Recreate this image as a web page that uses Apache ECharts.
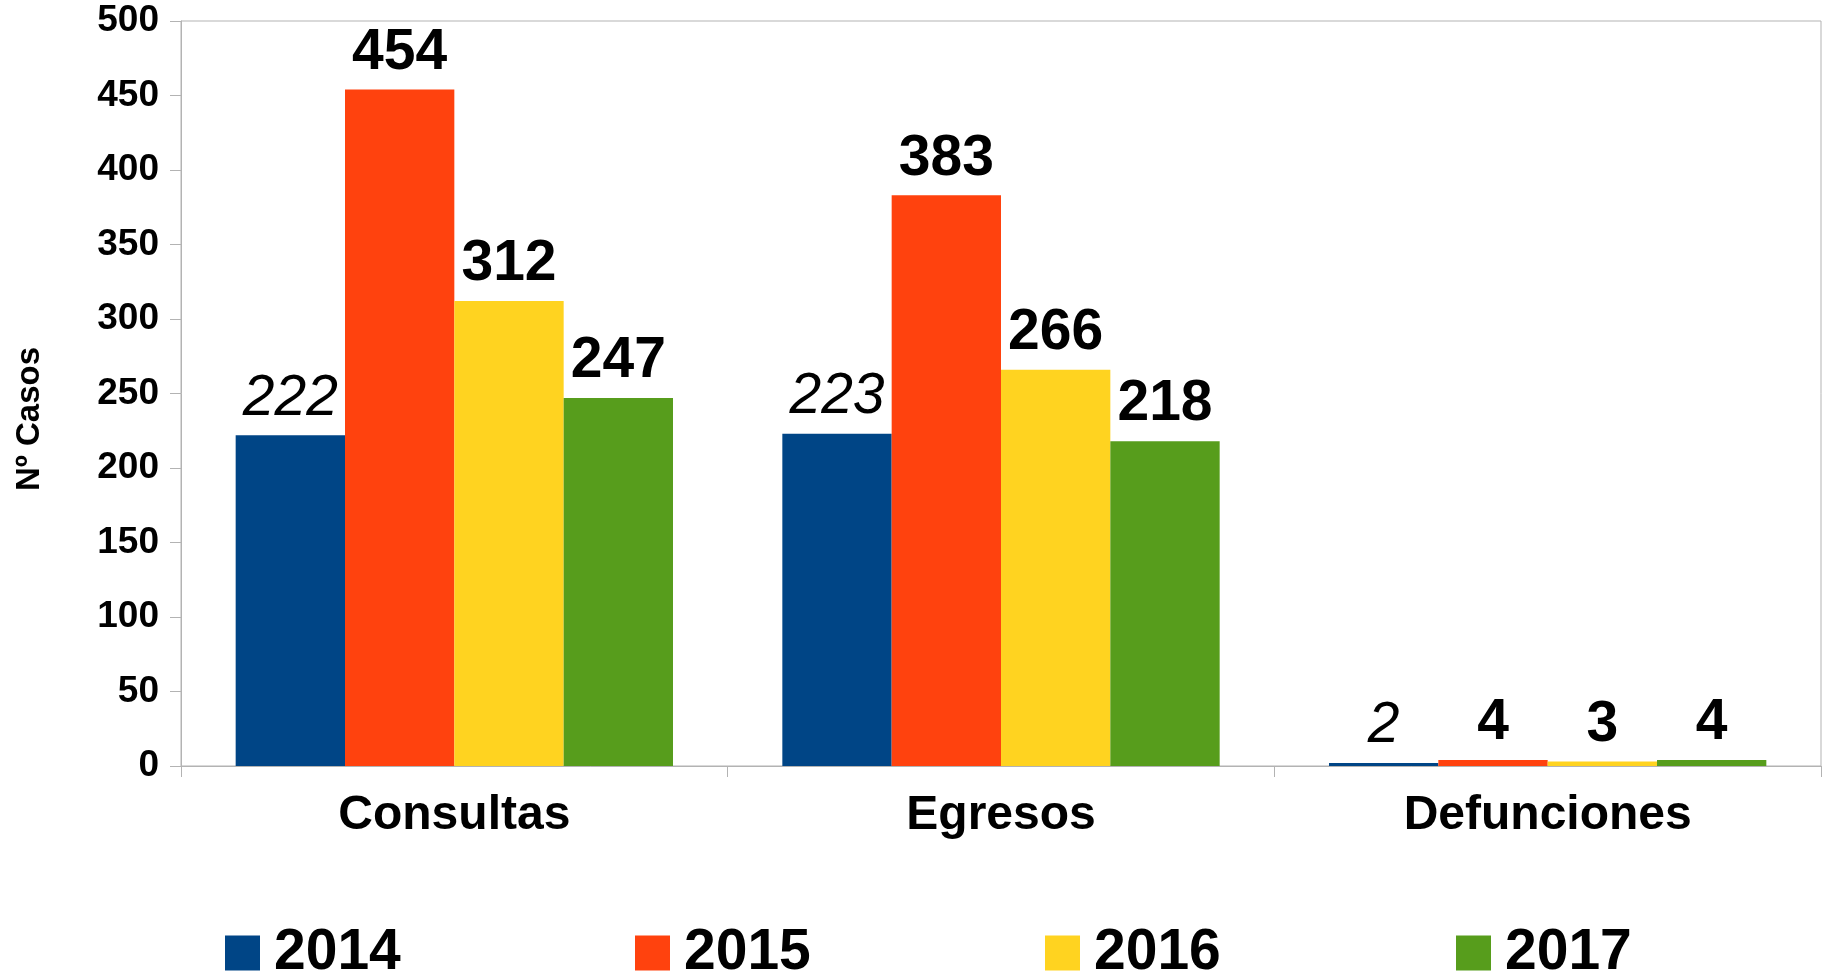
<!DOCTYPE html>
<html>
<head>
<meta charset="utf-8">
<script src="https://cdn.jsdelivr.net/npm/echarts@6/dist/echarts.min.js"></script>
<style>
html,body{margin:0;padding:0;background:#fff;}
#chart{width:1831px;height:979px;}
</style>
</head>
<body>
<div id="chart"></div>
<script>
const categories = ['Consultas', 'Egresos', 'Defunciones'];
const seriesNames = ['2014', '2015', '2016', '2017'];
const values2014 = [222, 223, 2];
const values2015 = [454, 383, 4];
const values2016 = [312, 266, 3];
const values2017 = [247, 218, 4];
const colors = ['#004586', '#ff420e', '#ffd320', '#579d1c'];
const yAxisTitle = 'Nº Casos';

const FONT = '"Liberation Sans", Arial, sans-serif';
const allValues = [values2014, values2015, values2016, values2017];
const legendLefts = [225, 635, 1045, 1456];

const series = allValues.map((vals, i) => ({
  name: seriesNames[i],
  type: 'bar',
  data: vals,
  barGap: '0%',
  barCategoryGap: '20%',
  itemStyle: { color: colors[i] },
  label: {
    show: true,
    position: 'top',
    distance: 8,
    fontFamily: FONT,
    fontSize: 57,
    fontWeight: i === 0 ? 'normal' : 'bold',
    fontStyle: i === 0 ? 'italic' : 'normal',
    color: '#000'
  }
}));

const legends = seriesNames.map((name, i) => ({
  data: [name],
  left: legendLefts[i],
  top: 923,
  padding: 0,
  itemWidth: 35,
  itemHeight: 35,
  itemGap: 0,
  icon: 'rect',
  textStyle: {
    fontFamily: FONT, fontSize: 57, fontWeight: 'bold', color: '#000',
    lineHeight: 60, padding: [0, 0, 0, 9]
  }
}));

const chart = echarts.init(document.getElementById('chart'), null, { renderer: 'canvas' });
chart.setOption({
  animation: false,
  backgroundColor: '#fff',
  color: colors,
  grid: {
    left: 181, right: 10, top: 21, bottom: 213,
    show: true, borderColor: '#b3b3b3', borderWidth: 1
  },
  legend: legends,
  xAxis: {
    type: 'category',
    data: categories,
    axisLine: { lineStyle: { color: '#b3b3b3', width: 1 } },
    axisTick: { show: true, inside: false, length: 11, lineStyle: { color: '#b3b3b3' } },
    axisLabel: { fontFamily: FONT, fontSize: 48, fontWeight: 'bold', color: '#000', margin: 26 },
    splitLine: { show: false }
  },
  yAxis: {
    type: 'value',
    min: 0, max: 500, interval: 50,
    axisLine: { show: true, lineStyle: { color: '#b3b3b3', width: 1 } },
    axisTick: { show: true, inside: false, length: 11, lineStyle: { color: '#b3b3b3' } },
    axisLabel: { fontFamily: FONT, fontSize: 37, fontWeight: 'bold', color: '#000', margin: 22 },
    splitLine: { show: false }
  },
  graphic: [{
    type: 'text',
    x: 30, y: 419,
    rotation: Math.PI / 2,
    style: {
      text: yAxisTitle,
      fontFamily: FONT, fontSize: 33, fontWeight: 'bold', fill: '#000',
      align: 'center', verticalAlign: 'middle'
    }
  }],
  series: series
});
</script>
</body>
</html>
